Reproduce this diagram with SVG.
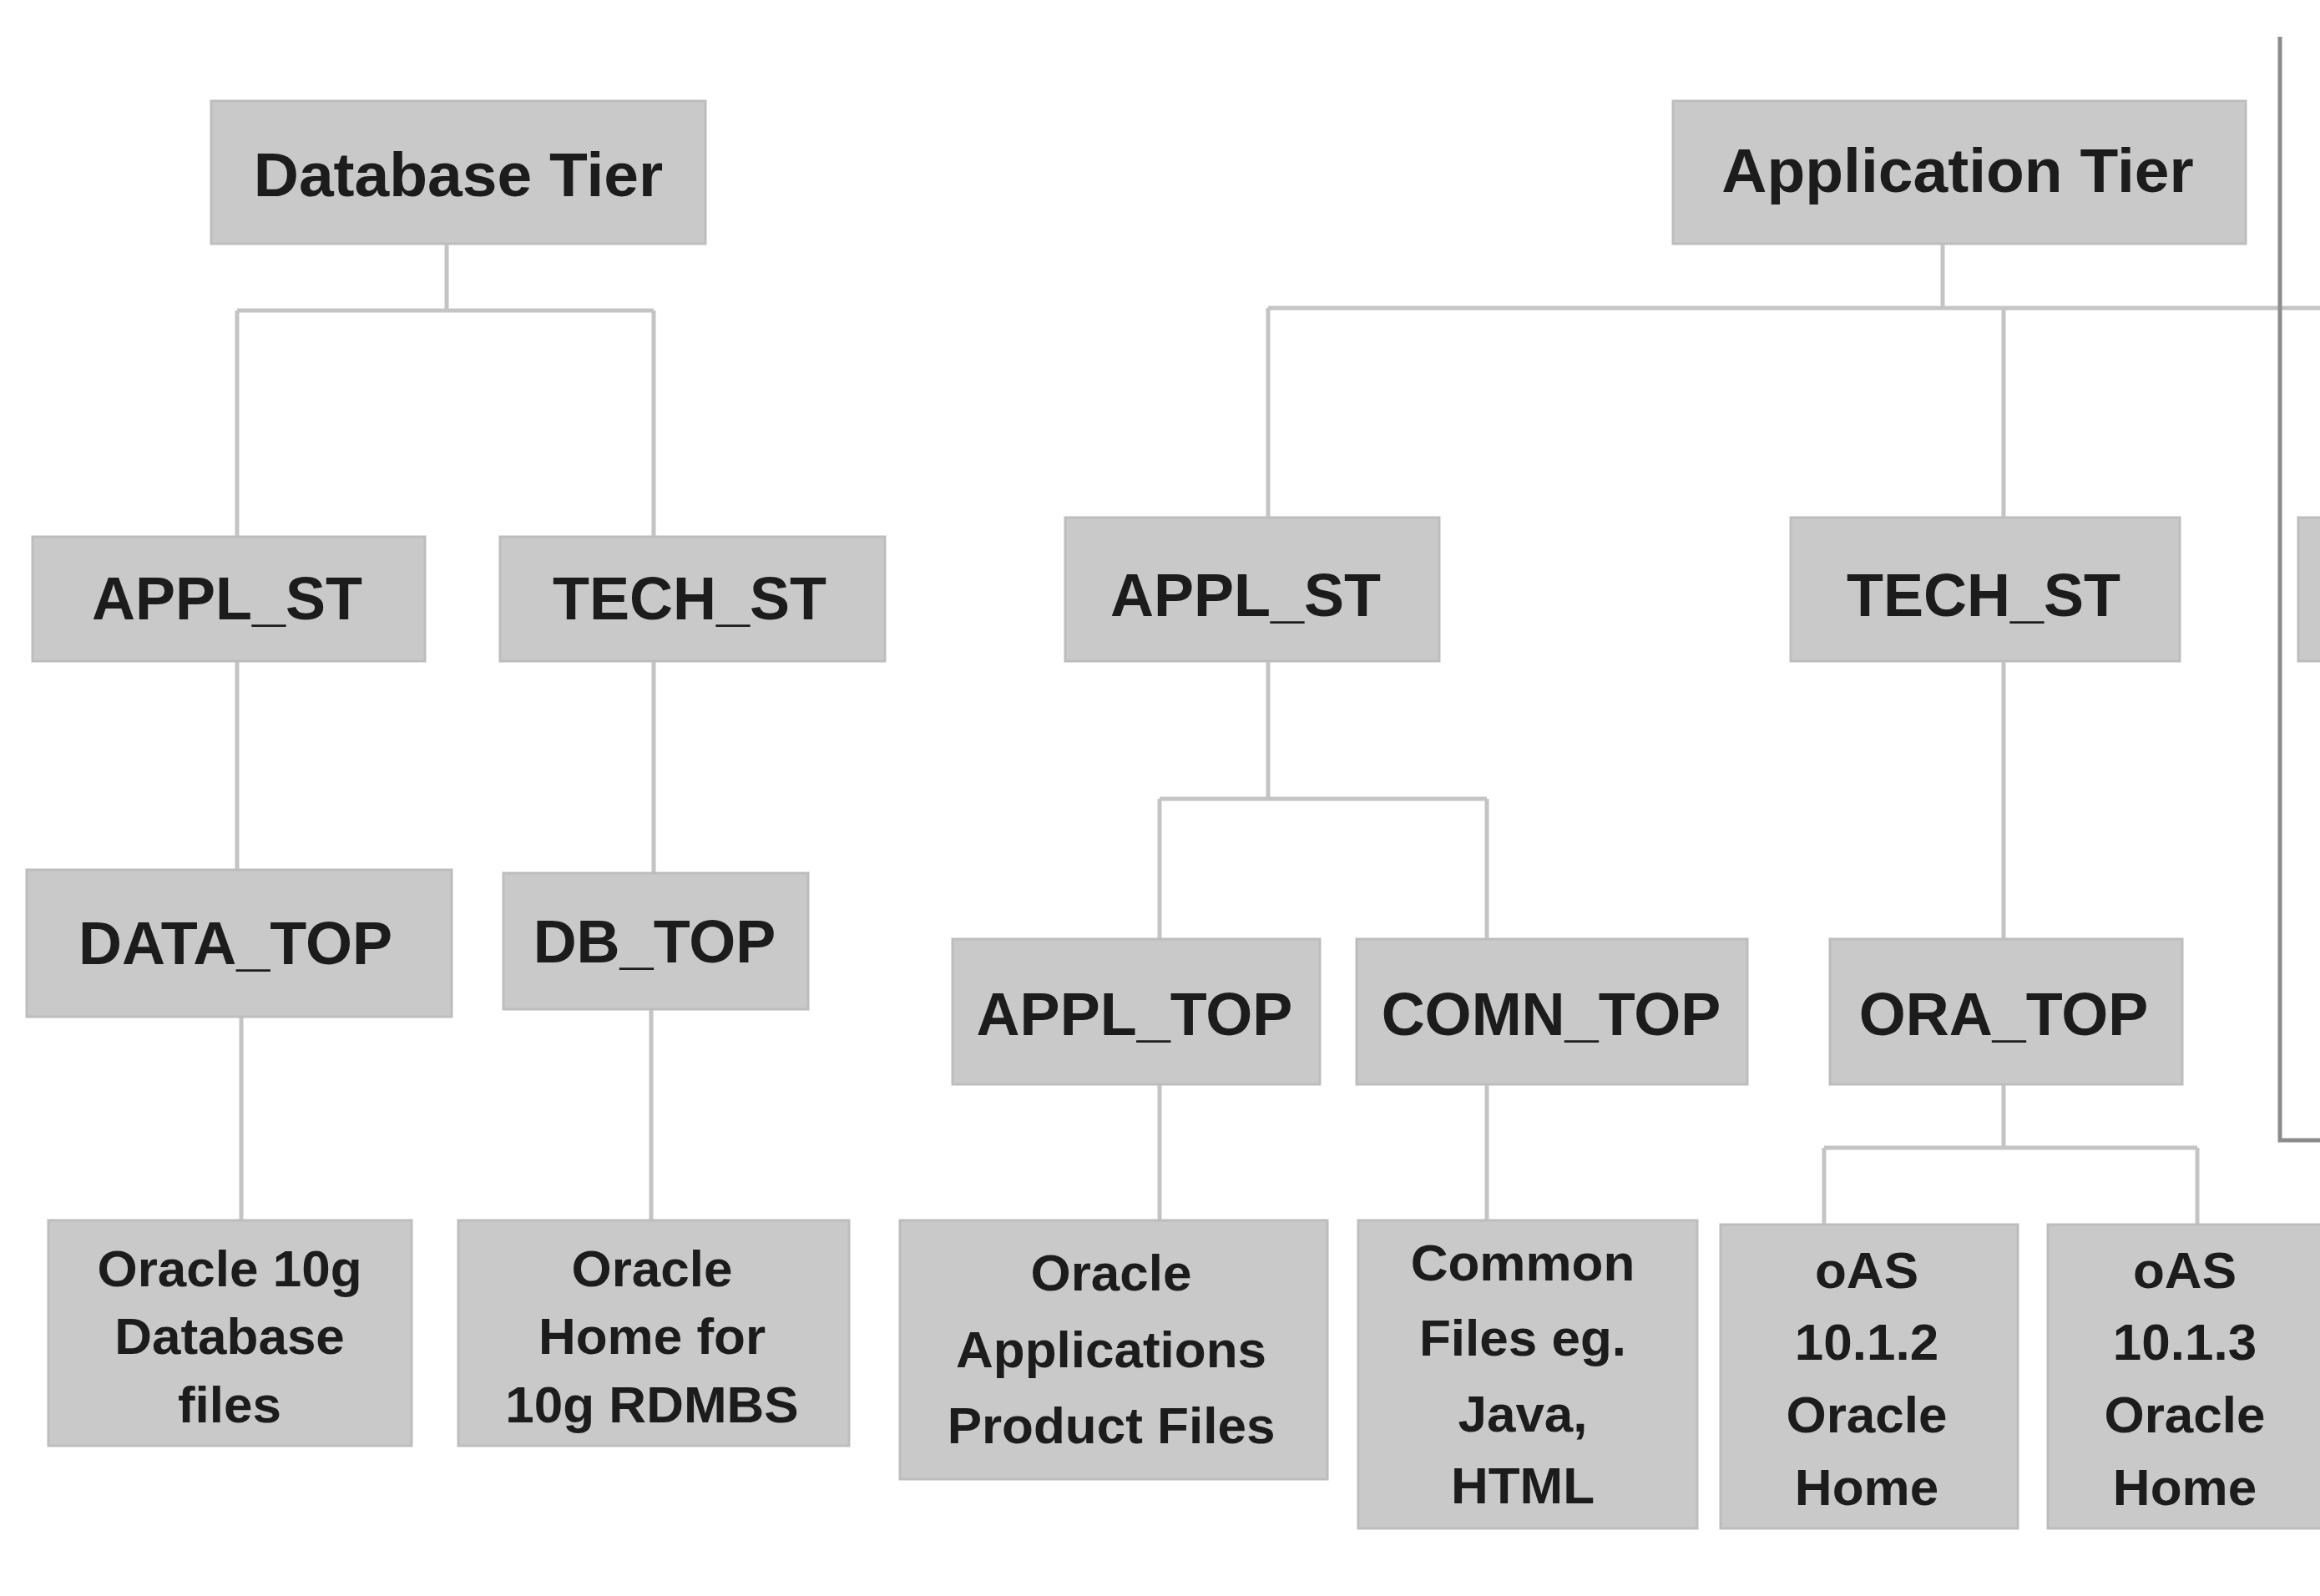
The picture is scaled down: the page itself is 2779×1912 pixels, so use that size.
<svg xmlns="http://www.w3.org/2000/svg" width="2779" height="1912" viewBox="0 0 2779 1912">
<style>
.box{fill:#c9c9c9;stroke:#bdbdbd;stroke-width:3}
.lbl{font-family:"Liberation Sans",Arial,sans-serif;font-weight:bold;fill:#1c1c1c;text-anchor:middle}
.big{font-size:75px}
.mid{font-size:72px}
.sm{font-size:62px}
.con{fill:none;stroke:#c4c4c4;stroke-width:5}
.dark{fill:none;stroke:#8c8c8c;stroke-width:5}
</style>
<rect width="2779" height="1912" fill="#ffffff"/>
<g id="connectors">
  <path class="con" d="M535 292V372M284 372H783M284 372V643M783 372V643"/>
  <path class="con" d="M284 792V1042M783 792V1046"/>
  <path class="con" d="M289 1218V1462M780 1209V1462"/>
  <path class="con" d="M2327 292V369M1519 369H2779M1519 369V620M2400 369V620"/>
  <path class="con" d="M1519 792V957M1389 957H1781M1389 957V1125M1781 957V1125"/>
  <path class="con" d="M2400 792V1125"/>
  <path class="con" d="M1389 1299V1462M1781 1299V1462"/>
  <path class="con" d="M2400 1299V1375M2185 1375H2632M2185 1375V1467M2632 1375V1467"/>
  <path class="dark" d="M2731 44V1366H2779"/>
</g>
<g id="db-tier"><rect class="box" x="253" y="121" width="592" height="171"/><text class="lbl big" x="549" y="235">Database Tier</text></g>
<g id="app-tier"><rect class="box" x="2004" y="121" width="686" height="171"/><text class="lbl big" x="2345" y="230">Application Tier</text></g>
<g id="db-appl-st"><rect class="box" x="39" y="643" width="470" height="149"/><text class="lbl mid" x="272" y="742">APPL_ST</text></g>
<g id="db-tech-st"><rect class="box" x="599" y="643" width="461" height="149"/><text class="lbl mid" x="826" y="742">TECH_ST</text></g>
<g id="app-appl-st"><rect class="box" x="1276" y="620" width="448" height="172"/><text class="lbl mid" x="1492" y="738">APPL_ST</text></g>
<g id="app-tech-st"><rect class="box" x="2145" y="620" width="466" height="172"/><text class="lbl mid" x="2376" y="738">TECH_ST</text></g>
<g id="partial-right"><rect class="box" x="2753" y="620" width="60" height="172"/></g>
<g id="data-top"><rect class="box" x="32" y="1042" width="509" height="176"/><text class="lbl mid" x="282" y="1155">DATA_TOP</text></g>
<g id="db-top"><rect class="box" x="603" y="1046" width="365" height="163"/><text class="lbl mid" x="784" y="1153">DB_TOP</text></g>
<g id="appl-top"><rect class="box" x="1141" y="1125" width="440" height="174"/><text class="lbl mid" x="1359" y="1240">APPL_TOP</text></g>
<g id="comn-top"><rect class="box" x="1625" y="1125" width="468" height="174"/><text class="lbl mid" x="1858" y="1240">COMN_TOP</text></g>
<g id="ora-top"><rect class="box" x="2192" y="1125" width="422" height="174"/><text class="lbl mid" x="2400" y="1240">ORA_TOP</text></g>
<g id="db-files"><rect class="box" x="58" y="1462" width="435" height="270"/><text class="lbl sm" x="275" y="1541">Oracle 10g</text><text class="lbl sm" x="275" y="1622">Database</text><text class="lbl sm" x="275" y="1704">files</text></g>
<g id="db-home"><rect class="box" x="549" y="1462" width="468" height="270"/><text class="lbl sm" x="781" y="1541">Oracle</text><text class="lbl sm" x="781" y="1622">Home for</text><text class="lbl sm" x="781" y="1704">10g RDMBS</text></g>
<g id="app-files"><rect class="box" x="1078" y="1462" width="512" height="310"/><text class="lbl sm" x="1331" y="1546">Oracle</text><text class="lbl sm" x="1331" y="1638">Applications</text><text class="lbl sm" x="1331" y="1729">Product Files</text></g>
<g id="common-files"><rect class="box" x="1627" y="1462" width="406" height="369"/><text class="lbl sm" x="1824" y="1534">Common</text><text class="lbl sm" x="1824" y="1624">Files eg.</text><text class="lbl sm" x="1824" y="1715">Java,</text><text class="lbl sm" x="1824" y="1801">HTML</text></g>
<g id="oas-1012"><rect class="box" x="2061" y="1467" width="356" height="364"/><text class="lbl sm" x="2236" y="1543">oAS</text><text class="lbl sm" x="2236" y="1629">10.1.2</text><text class="lbl sm" x="2236" y="1716">Oracle</text><text class="lbl sm" x="2236" y="1803">Home</text></g>
<g id="oas-1013"><rect class="box" x="2453" y="1467" width="340" height="364"/><text class="lbl sm" x="2617" y="1543">oAS</text><text class="lbl sm" x="2617" y="1629">10.1.3</text><text class="lbl sm" x="2617" y="1716">Oracle</text><text class="lbl sm" x="2617" y="1803">Home</text></g>
</svg>
